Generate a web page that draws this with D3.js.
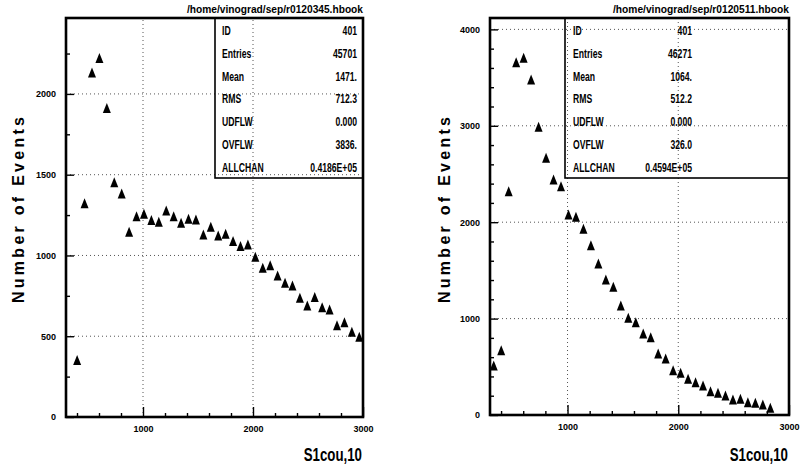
<!DOCTYPE html>
<html>
<head>
<meta charset="utf-8">
<script src="https://cdn.jsdelivr.net/npm/d3@7"></script>
<style>
  body { margin: 0; background: #fff; }
  svg { display: block; }
  text { font-family: "Liberation Sans", Arial, sans-serif; font-weight: bold; fill: #000; }
</style>
</head>
<body>
<svg id="chart" width="802" height="468"></svg>
<script>
// Histogram binning of S1cou,10 (40 bins over 300..3000)
const binLow = 300;
const binHigh = 3000;
const binWidth = 67.5;

// Run r0120345: counts per bin, starting at bin index 1
const firstBinA = 1;
const countsA = [350, 1320, 2130, 2220, 1910, 1450, 1380, 1143, 1240, 1255,
                 1216, 1205, 1275, 1240, 1199, 1224, 1220, 1127, 1175, 1121,
                 1131, 1086, 1055, 1065, 989, 921, 937, 873, 828, 811,
                 735, 687, 739, 677, 663, 565, 584, 524, 494];

// Run r0120511: counts per bin, starting at bin index 0
const firstBinB = 0;
const countsB = [508, 667, 2316, 3655, 3700, 3475, 2984, 2663, 2438, 2368,
                 2075, 2051, 1926, 1756, 1566, 1400, 1325, 1131, 1003, 957,
                 840, 802, 633, 581, 460, 432, 370, 335, 301, 242,
                 225, 197, 156, 163, 128, 121, 104, 69];

const fileA = "/home/vinograd/sep/r0120345.hbook";
const fileB = "/home/vinograd/sep/r0120511.hbook";

const statLabels = ["ID", "Entries", "Mean", "RMS", "UDFLW", "OVFLW", "ALLCHAN"];
const statsA = ["401", "45701", "1471.", "712.3", "0.000", "3836.", "0.4186E+05"];
const statsB = ["401", "46271", "1064.", "512.2", "0.000", "326.0", "0.4594E+05"];

const xTicks = [1000, 2000, 3000];
const yTicksA = [0, 500, 1000, 1500, 2000];
const yTicksB = [0, 1000, 2000, 3000, 4000];

const xTitle = "S1cou,10";
const yTitle = "Number of Events";

const svg = d3.select("#chart");

// Filled triangle marker, a little taller than wide
const triangle = {
  draw(ctx) {
    ctx.moveTo(0, -5.5);
    ctx.lineTo(4, 4.5);
    ctx.lineTo(-4, 4.5);
    ctx.closePath();
  }
};

function drawPanel(p) {
  const g = svg.append("g");
  const x = d3.scaleLinear().domain([binLow, binHigh]).range([p.left, p.right]);
  const y = d3.scaleLinear().domain([0, p.yMax]).range([p.bottom, p.top]);

  const clipId = "clip-" + p.id;
  g.append("clipPath").attr("id", clipId)
    .append("rect")
    .attr("x", p.left).attr("y", p.top)
    .attr("width", p.right - p.left).attr("height", p.bottom - p.top);

  // dotted grid
  const grid = g.append("g")
    .attr("stroke", "#555").attr("stroke-width", 1).attr("stroke-dasharray", "1,3");
  grid.selectAll("line.v").data(xTicks.filter(v => v < binHigh)).join("line")
    .attr("class", "v")
    .attr("x1", d => x(d)).attr("x2", d => x(d))
    .attr("y1", p.bottom).attr("y2", p.top);
  grid.selectAll("line.h").data(p.yTicks.filter(v => v > 0)).join("line")
    .attr("class", "h")
    .attr("x1", p.left).attr("x2", p.right)
    .attr("y1", d => y(d)).attr("y2", d => y(d));

  // minor ticks (inward, unlabeled)
  const xMinor = d3.range(400, binHigh, 200).filter(v => v % 1000 !== 0);
  g.append("g").attr("transform", `translate(0,${p.bottom})`)
    .call(d3.axisBottom(x).tickValues(xMinor).tickSize(-4).tickFormat(""))
    .call(a => a.select(".domain").remove());
  const yMinor = d3.range(p.yMinorStep, p.yMax, p.yMinorStep)
    .filter(v => !p.yTicks.includes(v));
  g.append("g").attr("transform", `translate(${p.left},0)`)
    .call(d3.axisLeft(y).tickValues(yMinor).tickSize(-4).tickFormat(""))
    .call(a => a.select(".domain").remove());

  // major ticks with labels
  const xAxis = g.append("g").attr("transform", `translate(0,${p.bottom})`)
    .call(d3.axisBottom(x).tickValues(xTicks).tickSize(-10).tickPadding(9).tickFormat(d3.format("d")));
  xAxis.select(".domain").remove();
  xAxis.selectAll("text").attr("font-size", 9).attr("font-family", "Liberation Sans, Arial, sans-serif");

  const yAxis = g.append("g").attr("transform", `translate(${p.left},0)`)
    .call(d3.axisLeft(y).tickValues(p.yTicks).tickSize(-8).tickPadding(10).tickFormat(d3.format("d")));
  yAxis.select(".domain").remove();
  yAxis.selectAll("text").attr("font-size", 9).attr("font-family", "Liberation Sans, Arial, sans-serif");

  g.selectAll(".tick line").attr("stroke", "#000").attr("stroke-width", 1.4);

  // data points
  const pts = p.counts.map((c, k) => ({
    x: binLow + binWidth * (p.firstBin + k + 0.5),
    y: c
  }));
  g.append("g").attr("clip-path", `url(#${clipId})`)
    .selectAll("path").data(pts).join("path")
    .attr("d", d3.symbol().type(triangle))
    .attr("transform", d => `translate(${x(d.x)},${y(d.y)})`)
    .attr("fill", "#000");

  // frame
  g.append("rect")
    .attr("x", p.left).attr("y", p.top)
    .attr("width", p.right - p.left).attr("height", p.bottom - p.top)
    .attr("fill", "none").attr("stroke", "#000").attr("stroke-width", 2.6);

  // statistics box
  g.append("rect")
    .attr("x", p.boxLeft).attr("y", p.top)
    .attr("width", p.right - p.boxLeft).attr("height", p.boxBottom - p.top)
    .attr("fill", "none").attr("stroke", "#000").attr("stroke-width", 1.6);
  const rows = g.append("g").selectAll("g").data(statLabels.map((l, i) => [l, p.stats[i]])).join("g");
  rows.append("text")
    .attr("transform", (d, i) => `translate(${p.labelX},${p.top + 17 + i * 22.8}) scale(0.72,1)`)
    .attr("font-size", 12)
    .text(d => d[0]);
  rows.append("text")
    .attr("transform", (d, i) => `translate(${p.valueX},${p.top + 17 + i * 22.8}) scale(0.72,1)`)
    .attr("text-anchor", "end")
    .attr("font-size", 12)
    .text(d => d[1]);

  // file name above the frame
  g.append("text")
    .attr("x", p.right).attr("y", 13)
    .attr("text-anchor", "end")
    .attr("font-size", 11)
    .attr("textLength", 176).attr("lengthAdjust", "spacingAndGlyphs")
    .text(p.file);

  // axis titles
  g.append("text")
    .attr("transform", `translate(${p.right - 1},461) scale(0.7,1)`)
    .attr("text-anchor", "end")
    .attr("font-size", 19)
    .text(xTitle);
  g.append("text")
    .attr("transform", `translate(${p.yTitleX},210) rotate(-90)`)
    .attr("text-anchor", "middle")
    .attr("font-size", 16)
    .attr("textLength", 186).attr("lengthAdjust", "spacing")
    .text(yTitle);
}

drawPanel({
  id: "a", left: 66, right: 363, top: 18, bottom: 417,
  yMax: 2470, yTicks: yTicksA, yMinorStep: 250,
  counts: countsA, firstBin: firstBinA,
  boxLeft: 215, boxBottom: 178, labelX: 222, valueX: 357,
  stats: statsA, file: fileA, yTitleX: 24
});

drawPanel({
  id: "b", left: 490, right: 789, top: 18, bottom: 415,
  yMax: 4118, yTicks: yTicksB, yMinorStep: 200,
  counts: countsB, firstBin: firstBinB,
  boxLeft: 565, boxBottom: 178, labelX: 573, valueX: 692,
  stats: statsB, file: fileB, yTitleX: 450
});
</script>
</body>
</html>
